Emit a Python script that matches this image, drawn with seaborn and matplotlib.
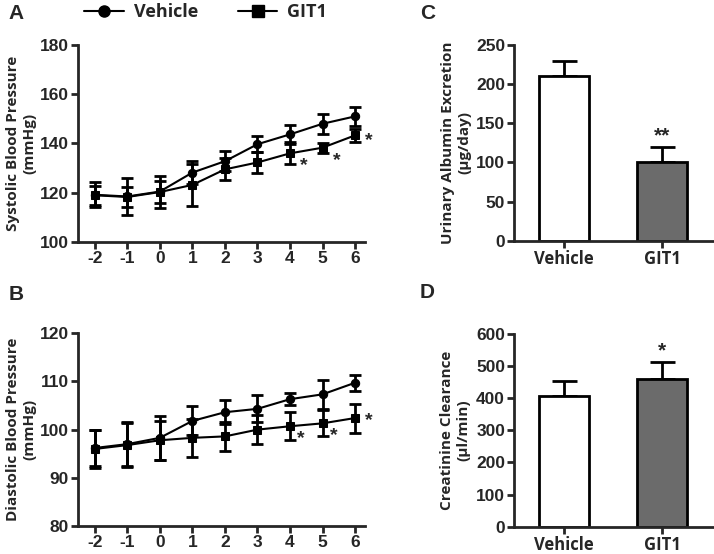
import numpy as np
import pandas as pd
import seaborn as sns
import matplotlib.pyplot as plt
from matplotlib.lines import Line2D

sns.set_style("ticks")
plt.rcParams['font.family'] = ['Liberation Sans', 'DejaVu Sans']
plt.rcParams['font.weight'] = 'bold'
plt.rcParams['axes.unicode_minus'] = False

# ---------------- data ----------------
weeks = [-2, -1, 0, 1, 2, 3, 4, 5, 6]

sbp_vehicle = [119.2, 118.5, 120.5, 128.2, 132.8, 139.7, 143.7, 148.0, 151.0]
sbp_vehicle_err = [5.0, 7.5, 6.5, 4.5, 4.0, 3.2, 4.0, 4.0, 4.0]
sbp_git1 = [119.0, 118.3, 120.3, 123.2, 129.5, 132.3, 136.0, 138.3, 143.3]
sbp_git1_err = [3.8, 4.0, 4.5, 8.5, 4.5, 4.2, 4.5, 2.0, 2.5]

dbp_vehicle = [96.2, 97.0, 98.3, 101.8, 103.6, 104.3, 106.3, 107.3, 109.7]
dbp_vehicle_err = [3.8, 4.5, 4.5, 3.0, 2.5, 2.8, 1.2, 3.0, 1.7]
dbp_git1 = [96.0, 96.8, 97.8, 98.3, 98.6, 100.0, 100.7, 101.3, 102.4]
dbp_git1_err = [4.0, 4.5, 4.0, 4.0, 3.0, 3.0, 2.9, 2.7, 3.0]

groups = ["Vehicle", "GIT1"]
albumin = [210, 100]
albumin_err = [20, 20]
clearance = [406, 460]
clearance_err = [47, 52]

bar_colors = ["white", "#6b6b6b"]

fig = plt.figure(figsize=(7.14, 5.54), dpi=100)
axA = fig.add_axes([0.109, 0.563, 0.402, 0.356])
axB = fig.add_axes([0.109, 0.050, 0.402, 0.349])
axC = fig.add_axes([0.720, 0.5655, 0.279, 0.353])
axD = fig.add_axes([0.720, 0.0490, 0.279, 0.349])


def style_ax(ax):
    sns.despine(ax=ax)
    for s in ["left", "bottom"]:
        ax.spines[s].set_linewidth(2)
    ax.tick_params(width=2, length=5, labelsize=12.5, pad=1.5)
    plt.setp(ax.get_xticklabels() + ax.get_yticklabels(), fontweight="bold")


def line_panel(ax, veh, veh_err, git, git_err, ylim, yticks, ylabel, star_offsets, label_x):
    df = pd.DataFrame({"week": weeks * 2,
                       "value": veh + git,
                       "group": ["Vehicle"] * 9 + ["GIT1"] * 9})
    sns.lineplot(data=df, x="week", y="value", hue="group", style="group",
                 markers={"Vehicle": "o", "GIT1": "s"}, dashes=False,
                 palette={"Vehicle": "black", "GIT1": "black"},
                 markersize=6, linewidth=1.5, markeredgecolor="black",
                 legend=False, ax=ax)
    ax.errorbar(weeks, veh, yerr=veh_err, fmt="none", ecolor="black",
                elinewidth=2, capsize=4, capthick=2)
    ax.errorbar(weeks, git, yerr=git_err, fmt="none", ecolor="black",
                elinewidth=2, capsize=4, capthick=2)
    for i, (dx, dy) in zip([6, 7, 8], star_offsets):
        ax.annotate("*", (weeks[i], git[i]), xytext=(dx, dy),
                    textcoords="offset points", ha="center", va="center",
                    fontsize=14, fontweight="bold")
    ax.set_xlim(-2.52, 6.3)
    ax.set_ylim(*ylim)
    ax.set_yticks(yticks)
    ax.set_xticks(weeks)
    ax.set_xlabel("")
    ax.set_ylabel(ylabel, fontsize=11, fontweight="bold",
                  family=["Open Sans", "DejaVu Sans"])
    ax.yaxis.set_label_coords(label_x, 0.5)
    style_ax(ax)


def bar_panel(ax, vals, errs, ylim, yticks, ylabel, star, label_x):
    df = pd.DataFrame({"group": groups, "value": vals})
    sns.barplot(data=df, x="group", y="value", hue="group",
                palette=dict(zip(groups, bar_colors)), width=0.51,
                edgecolor="black", linewidth=2, legend=False, ax=ax)
    ax.errorbar([0, 1], vals, yerr=[[0, 0], errs], fmt="none", ecolor="black",
                elinewidth=2, capsize=9, capthick=2, zorder=0)
    ax.annotate(star, (1, vals[1] + errs[1]), xytext=(0, 1),
                textcoords="offset points", ha="center", va="bottom",
                fontsize=15, fontweight="bold")
    ax.set_xlim(-0.51, 1.52)
    ax.set_ylim(*ylim)
    ax.set_yticks(yticks)
    ax.set_xlabel("")
    ax.set_ylabel(ylabel, fontsize=11, fontweight="bold",
                  family=["Open Sans", "DejaVu Sans"])
    ax.yaxis.set_label_coords(label_x, 0.5)
    style_ax(ax)
    ax.tick_params(axis="x", labelsize=12)
    for lab in ax.get_xticklabels():
        lab.set_family(["Open Sans", "DejaVu Sans"])


line_panel(axA, sbp_vehicle, sbp_vehicle_err, sbp_git1, sbp_git1_err,
           (100, 180), [100, 120, 140, 160, 180],
           "Systolic Blood Pressure\n(mmHg)", [(10, -9), (10, -9), (10, -4)], -0.145)
line_panel(axB, dbp_vehicle, dbp_vehicle_err, dbp_git1, dbp_git1_err,
           (80, 120), [80, 90, 100, 110, 120],
           "Diastolic Blood Pressure\n(mmHg)", [(8, -9), (8, -9), (10, -2)], -0.145)
bar_panel(axC, albumin, albumin_err, (0, 250), [0, 50, 100, 150, 200, 250],
          "Urinary Albumin Excretion\n(\u03bcg/day)", "**", -0.215)
bar_panel(axD, clearance, clearance_err, (0, 600),
          [0, 100, 200, 300, 400, 500, 600],
          "Creatinine Clearance\n(\u03bcl/min)", "*", -0.221)

# legend on top
handles = [Line2D([], [], color="black", marker="o", markersize=8, lw=1.5),
           Line2D([], [], color="black", marker="s", markersize=8, lw=1.5)]
fig.legend(handles, groups, loc="center", bbox_to_anchor=(0.288, 0.978),
           ncol=2, frameon=False,
           prop={"weight": "bold", "size": 13, "family": ["Open Sans", "DejaVu Sans"]},
           handlelength=2.2, handletextpad=0.55, columnspacing=2.2)

for letter, (x, y) in zip("ABCD", [(0.012, 0.975), (0.012, 0.468),
                                    (0.588, 0.975), (0.588, 0.472)]):
    fig.text(x, y, letter, fontsize=15, fontweight="bold", va="center")

fig.savefig("out.png", dpi=100)
